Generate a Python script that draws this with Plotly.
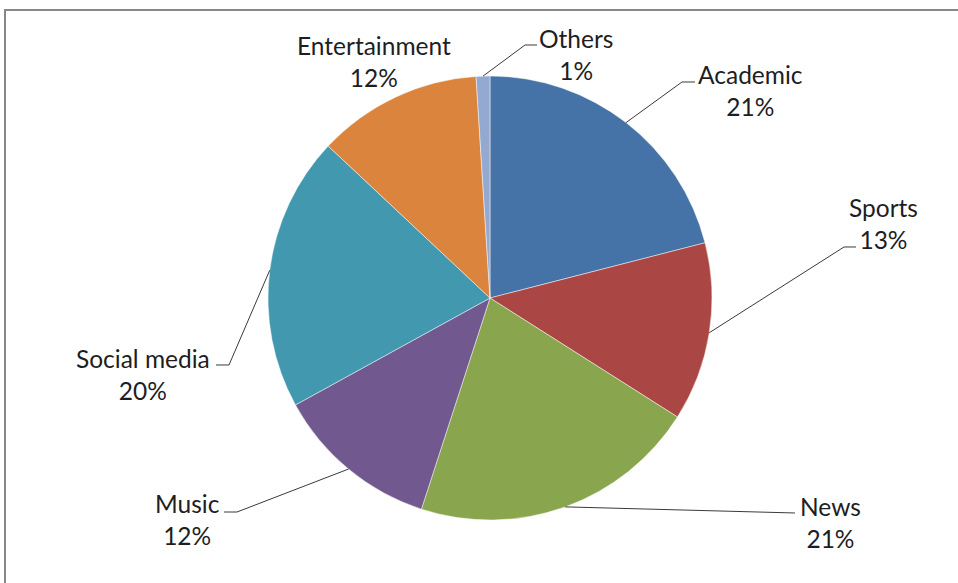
import math
import plotly.graph_objects as go

# Share of time by activity (percent)
categories = ["Academic", "Sports", "News", "Music", "Social media", "Entertainment", "Others"]
values = [21, 13, 21, 12, 20, 12, 1]
colors = ["#4572A7", "#AA4643", "#89A54E", "#71588F", "#4198AF", "#DB843D", "#93A9CF"]

W, H = 958, 583
CX, CY, R = 490, 298, 222  # pie centre and radius in pixels


def px(x):
    return x / W


def py(y):
    return 1 - y / H


fig = go.Figure(
    go.Pie(
        labels=categories,
        values=values,
        sort=False,
        direction="clockwise",
        rotation=0,
        marker=dict(colors=colors, line=dict(color="rgba(255,255,255,0.6)", width=0.8)),
        textinfo="none",
        hoverinfo="label+percent",
        showlegend=False,
        domain=dict(x=[px(CX - R), px(CX + R)], y=[py(CY + R), py(CY - R)]),
    )
)

# label block centres and leader-line routes (elbow, end) in pixels
label_pos = {
    "Academic": (750, 90.5),
    "Sports": (883, 223),
    "News": (830, 522),
    "Music": (187, 519.5),
    "Social media": (143, 374),
    "Entertainment": (374, 61.5),
    "Others": (576, 54.5),
}
leaders = {
    "Academic": [(682, 82), (695, 82)],
    "Sports": [(844, 247), (856, 247)],
    "News": [(795, 513)],
    "Music": [(237, 512), (224, 512)],
    "Social media": [(229, 365), (216, 365)],
    "Others": [(525, 45), (537, 45)],
}

total = sum(values)
shapes = []
annotations = []
cum = 0
for name, v in zip(categories, values):
    mid = (cum + v / 2) / total * 2 * math.pi
    cum += v
    sx = CX + R * math.sin(mid)
    sy = CY - R * math.cos(mid)
    if name in leaders:
        pts = [(sx, sy)] + leaders[name]
        path = "M " + " L ".join(f"{px(x):.5f},{py(y):.5f}" for x, y in pts)
        shapes.append(dict(type="path", xref="paper", yref="paper", path=path,
                           line=dict(color="#3a3a3a", width=1)))
    lx, ly = label_pos[name]
    pct = round(v / total * 100)
    annotations.append(dict(
        x=px(lx), y=py(ly), xref="paper", yref="paper",
        text=f"{name}<br>{pct}%", showarrow=False,
        xanchor="center", yanchor="middle", align="center",
        font=dict(family="Lato, Open Sans, sans-serif", size=24.5, color="#1e1e1e"),
    ))

# chart-area frame
shapes.append(dict(type="rect", xref="paper", yref="paper",
                   x0=px(5), x1=px(970), y0=py(600), y1=py(10),
                   line=dict(color="#878787", width=2), fillcolor="rgba(0,0,0,0)"))

fig.update_layout(
    width=W, height=H,
    margin=dict(l=0, r=0, t=0, b=0),
    paper_bgcolor="white",
    plot_bgcolor="white",
    shapes=shapes,
    annotations=annotations,
)

fig.write_html("out.html")
